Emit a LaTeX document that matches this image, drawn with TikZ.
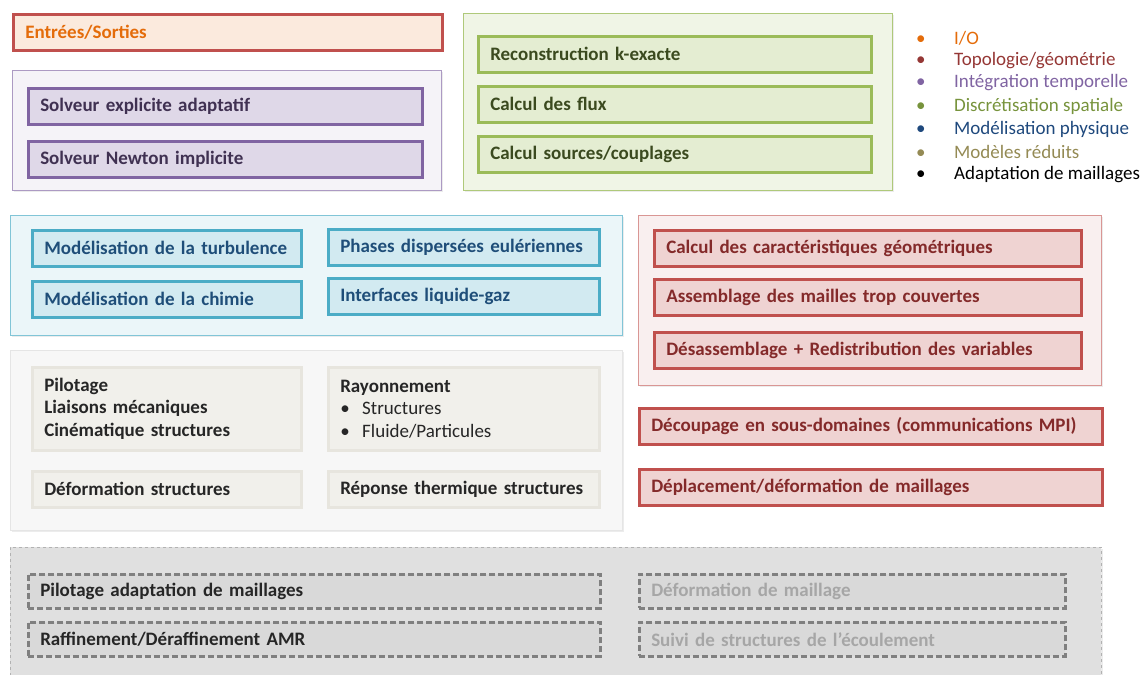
\documentclass[tikz,border=0pt]{standalone}
\usepackage{fontspec}
\setmainfont{Carlito}
\usetikzlibrary{shadows}

\definecolor{ioorange}{HTML}{E46C0A}
\definecolor{topored}{HTML}{953735}
\definecolor{cellred}{HTML}{C0504D}
\definecolor{txtred}{HTML}{842A2A}
\definecolor{intpurple}{HTML}{8064A2}
\definecolor{txtpurple}{HTML}{403152}
\definecolor{discgreen}{HTML}{77933C}
\definecolor{cellgreen}{HTML}{9BBB59}
\definecolor{txtgreen}{HTML}{3B4A1F}
\definecolor{physblue}{HTML}{1F497D}
\definecolor{cellblue}{HTML}{4BACC6}
\definecolor{txtblue}{HTML}{1F4E79}
\definecolor{redolive}{HTML}{948A54}
\definecolor{txtgray}{HTML}{262626}
\definecolor{redfill}{HTML}{F1F0EB}
\definecolor{redline}{HTML}{E7E5DE}

\begin{document}
\begin{tikzpicture}[x=1pt, y=-1pt,
    group/.style={draw, line width=0.8pt, anchor=north west, inner sep=0pt,
      drop shadow={opacity=0.15, shadow xshift=1.5pt, shadow yshift=-1.5pt}},
    cell/.style={draw, line width=2.5pt, anchor=north west, inner xsep=12pt, inner ysep=0pt,
      minimum height=36pt, align=left, font=\fontsize{19}{22.5}\selectfont\bfseries},
    iocell/.style={cell, draw=cellred, fill=ioorange!14, text=ioorange},
    solvcell/.style={cell, draw=intpurple, fill=intpurple!25, text=txtpurple},
    spacecell/.style={cell, draw=cellgreen, fill=cellgreen!27, text=txtgreen},
    physcell/.style={cell, draw=cellblue, fill=cellblue!25, text=txtblue},
    geocell/.style={cell, draw=cellred, fill=cellred!25, text=txtred},
    redcell/.style={cell, draw=redline, fill=redfill, text=txtgray},
    meshcell/.style={cell, draw=black!50, fill=black!15, dash pattern=on 6pt off 3pt, minimum height=34pt},
    legend/.style={anchor=west, inner sep=0pt, font=\fontsize{19}{20}\selectfont}
]
    \path[use as bounding box, clip] (0,0) rectangle (1144,675);

    % groupes
    \node[group, draw=intpurple!65, fill=intpurple!8, minimum width=429pt, minimum height=120pt] (temps) at (12,70) {};
    \node[group, draw=cellgreen!80, fill=cellgreen!15, minimum width=429pt, minimum height=177pt] (espace) at (463,13) {};
    \node[group, draw=cellblue!70, fill=cellblue!11, minimum width=612pt, minimum height=120pt] (phys) at (10,215) {};
    \node[group, draw=cellred!60, fill=cellred!9, minimum width=463pt, minimum height=170pt] (topo) at (638,215) {};
    \node[group, draw=black!10, fill=black!3, minimum width=612pt, minimum height=180pt] (reduits) at (10,350) {};
    \node[group, draw=black!30, fill=black!12, dashed, minimum width=1091pt, minimum height=140pt] (adapt) at (10,547) {};

    % entrees/sorties
    \node[iocell, text width=405pt] (io) at (12,13) {Entrées/Sorties};

    % integration temporelle
    \node[solvcell, text width=370pt] (expl) at (27,87) {Solveur explicite adaptatif};
    \node[solvcell, text width=370pt] (impl) at (27,140) {Solveur Newton implicite};

    % discretisation spatiale
    \node[spacecell, text width=369pt] (recon) at (477,35) {Reconstruction k-exacte};
    \node[spacecell, text width=369pt] (flux) at (477,85) {Calcul des flux};
    \node[spacecell, text width=369pt] (sources) at (477,135) {Calcul sources/couplages};

    % legende
    \node[legend, text=ioorange] (lio) at (916,38) {\makebox[38pt][l]{•}I/O};
    \node[legend, text=topored] (ltopo) at (916,61) {\makebox[38pt][l]{•}Topologie/géométrie};
    \node[legend, text=intpurple] (lint) at (916,83) {\makebox[38pt][l]{•}Intégration temporelle};
    \node[legend, text=discgreen] (ldisc) at (916,106) {\makebox[38pt][l]{•}Discrétisation spatiale};
    \node[legend, text=physblue] (lphys) at (916,129) {\makebox[38pt][l]{•}Modélisation physique};
    \node[legend, text=redolive] (lred) at (916,152) {\makebox[38pt][l]{•}Modèles réduits};
    \node[legend, text=black] (ladapt) at (916,175) {\makebox[38pt][l]{•}Adaptation de maillages};

    % modelisation physique
    \node[physcell, text width=245pt] (turb) at (31,229) {Modélisation de la turbulence};
    \node[physcell, text width=245pt] (chimie) at (31,280) {Modélisation de la chimie};
    \node[physcell, text width=247pt] (phases) at (327,228) {Phases dispersées eulériennes};
    \node[physcell, text width=247pt] (interf) at (327,277) {Interfaces liquide-gaz};

    % topologie/geometrie
    \node[geocell, text width=403pt] (geom) at (653,229) {Calcul des caractéristiques géométriques};
    \node[geocell, text width=403pt] (assem) at (653,278) {Assemblage des mailles trop couvertes};
    \node[geocell, text width=403pt] (desas) at (653,331) {Désassemblage + Redistribution des variables};
    \node[geocell, text width=439pt] (decoup) at (638,407) {Découpage en sous-domaines (communications MPI)};
    \node[geocell, text width=439pt] (depl) at (638,468) {Déplacement/déformation de maillages};

    % modeles reduits
    \node[redcell, text width=245pt, minimum height=83pt] (pilot) at (31,366)
      {Pilotage\\Liaisons mécaniques\\Cinématique structures};
    \node[redcell, text width=247pt, minimum height=83pt] (rayon) at (327,366)
      {Rayonnement\\\mdseries\makebox[22pt][l]{•}Structures\\\mdseries\makebox[22pt][l]{•}Fluide/Particules};
    \node[redcell, text width=245pt] (deform) at (31,470) {Déformation structures};
    \node[redcell, text width=247pt] (therm) at (327,470) {Réponse thermique structures};

    % adaptation de maillages
    \node[meshcell, text width=548pt, text=txtgray] (pilada) at (27,573) {Pilotage adaptation de maillages};
    \node[meshcell, text width=548pt, text=txtgray] (raff) at (27,621) {Raffinement/Déraffinement AMR};
    \node[meshcell, text width=402pt, text=black!35] (defmail) at (638,573) {Déformation de maillage};
    \node[meshcell, text width=402pt, text=black!35] (suivi) at (638,621) {Suivi de structures de l’écoulement};
\end{tikzpicture}
\end{document}
